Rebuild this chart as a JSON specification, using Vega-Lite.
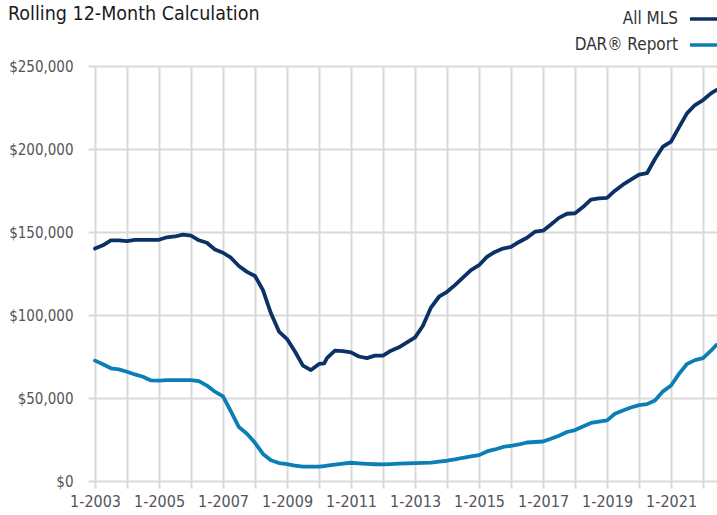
{
  "$schema": "https://vega.github.io/schema/vega-lite/v6.json",
  "width": 629,
  "height": 415,
  "autosize": {"type": "none"},
  "padding": {"left": 88, "top": 66, "right": 0, "bottom": 34},
  "background": "white",
  "title": {
    "text": "Rolling 12-Month Calculation",
    "anchor": "start",
    "frame": "group",
    "font": "DejaVu Sans Condensed, Liberation Sans, sans-serif",
    "fontSize": 19.5,
    "fontWeight": "normal",
    "color": "#1a1a1a",
    "baseline": "alphabetic",
    "dx": -80,
    "offset": 0,
    "dy": 37
  },
  "data": {
    "values": [
      {"date": "2003-01-01", "All MLS": 140000, "DAR® Report": 72500},
      {"date": "2003-04-01", "All MLS": 142000, "DAR® Report": 70300},
      {"date": "2003-07-01", "All MLS": 145000, "DAR® Report": 67900},
      {"date": "2003-10-01", "All MLS": 145000, "DAR® Report": 67200},
      {"date": "2004-01-01", "All MLS": 144500, "DAR® Report": 65800},
      {"date": "2004-04-01", "All MLS": 145200, "DAR® Report": 64200},
      {"date": "2004-07-01", "All MLS": 145200, "DAR® Report": 62800},
      {"date": "2004-10-01", "All MLS": 145200, "DAR® Report": 60600},
      {"date": "2005-01-01", "All MLS": 145300, "DAR® Report": 60500},
      {"date": "2005-04-01", "All MLS": 146800, "DAR® Report": 60800},
      {"date": "2005-07-01", "All MLS": 147300, "DAR® Report": 60800},
      {"date": "2005-10-01", "All MLS": 148400, "DAR® Report": 60800},
      {"date": "2006-01-01", "All MLS": 147800, "DAR® Report": 60800},
      {"date": "2006-04-01", "All MLS": 145000, "DAR® Report": 60200},
      {"date": "2006-07-01", "All MLS": 143500, "DAR® Report": 57500},
      {"date": "2006-10-01", "All MLS": 139500, "DAR® Report": 53800},
      {"date": "2007-01-01", "All MLS": 137500, "DAR® Report": 51000},
      {"date": "2007-04-01", "All MLS": 134500, "DAR® Report": 42000},
      {"date": "2007-07-01", "All MLS": 129500, "DAR® Report": 32500},
      {"date": "2007-10-01", "All MLS": 126000, "DAR® Report": 28500},
      {"date": "2008-01-01", "All MLS": 123500, "DAR® Report": 23000},
      {"date": "2008-04-01", "All MLS": 115000, "DAR® Report": 16300},
      {"date": "2008-07-01", "All MLS": 101000, "DAR® Report": 12500},
      {"date": "2008-10-01", "All MLS": 90000, "DAR® Report": 10800},
      {"date": "2009-01-01", "All MLS": 85500, "DAR® Report": 10200},
      {"date": "2009-04-01", "All MLS": 78000, "DAR® Report": 9300},
      {"date": "2009-07-01", "All MLS": 69500, "DAR® Report": 8700},
      {"date": "2009-10-01", "All MLS": 66800, "DAR® Report": 8600},
      {"date": "2010-01-01", "All MLS": 70500, "DAR® Report": 8600},
      {"date": "2010-03-01", "All MLS": 70900, "DAR® Report": 9000},
      {"date": "2010-04-01", "All MLS": 74000, "DAR® Report": 9200},
      {"date": "2010-07-01", "All MLS": 78500, "DAR® Report": 9800},
      {"date": "2010-10-01", "All MLS": 78200, "DAR® Report": 10500},
      {"date": "2011-01-01", "All MLS": 77500, "DAR® Report": 11000},
      {"date": "2011-04-01", "All MLS": 75000, "DAR® Report": 10600},
      {"date": "2011-07-01", "All MLS": 74000, "DAR® Report": 10300},
      {"date": "2011-10-01", "All MLS": 75500, "DAR® Report": 10100},
      {"date": "2012-01-01", "All MLS": 75500, "DAR® Report": 10000},
      {"date": "2012-04-01", "All MLS": 78500, "DAR® Report": 10200},
      {"date": "2012-07-01", "All MLS": 80500, "DAR® Report": 10500},
      {"date": "2012-10-01", "All MLS": 83500, "DAR® Report": 10600},
      {"date": "2013-01-01", "All MLS": 86500, "DAR® Report": 10800},
      {"date": "2013-04-01", "All MLS": 93500, "DAR® Report": 10900},
      {"date": "2013-07-01", "All MLS": 104500, "DAR® Report": 11100},
      {"date": "2013-10-01", "All MLS": 111000, "DAR® Report": 11700},
      {"date": "2014-01-01", "All MLS": 114000, "DAR® Report": 12200},
      {"date": "2014-04-01", "All MLS": 118000, "DAR® Report": 13000},
      {"date": "2014-07-01", "All MLS": 122500, "DAR® Report": 14000},
      {"date": "2014-10-01", "All MLS": 127000, "DAR® Report": 14800},
      {"date": "2015-01-01", "All MLS": 130000, "DAR® Report": 15600},
      {"date": "2015-04-01", "All MLS": 135000, "DAR® Report": 17800},
      {"date": "2015-07-01", "All MLS": 138000, "DAR® Report": 19000},
      {"date": "2015-10-01", "All MLS": 140000, "DAR® Report": 20500},
      {"date": "2016-01-01", "All MLS": 141000, "DAR® Report": 21200},
      {"date": "2016-04-01", "All MLS": 144000, "DAR® Report": 22000},
      {"date": "2016-07-01", "All MLS": 146500, "DAR® Report": 23200},
      {"date": "2016-10-01", "All MLS": 150200, "DAR® Report": 23500},
      {"date": "2017-01-01", "All MLS": 150800, "DAR® Report": 23800},
      {"date": "2017-04-01", "All MLS": 154500, "DAR® Report": 25500},
      {"date": "2017-07-01", "All MLS": 158500, "DAR® Report": 27300},
      {"date": "2017-10-01", "All MLS": 161000, "DAR® Report": 29500},
      {"date": "2018-01-01", "All MLS": 161300, "DAR® Report": 30700},
      {"date": "2018-04-01", "All MLS": 165000, "DAR® Report": 32800},
      {"date": "2018-07-01", "All MLS": 169500, "DAR® Report": 35000},
      {"date": "2018-10-01", "All MLS": 170300, "DAR® Report": 35800},
      {"date": "2019-01-01", "All MLS": 170500, "DAR® Report": 36500},
      {"date": "2019-04-01", "All MLS": 174900, "DAR® Report": 40500},
      {"date": "2019-07-01", "All MLS": 178500, "DAR® Report": 42500},
      {"date": "2019-10-01", "All MLS": 181500, "DAR® Report": 44300},
      {"date": "2020-01-01", "All MLS": 184500, "DAR® Report": 45700},
      {"date": "2020-04-01", "All MLS": 185400, "DAR® Report": 46300},
      {"date": "2020-07-01", "All MLS": 194000, "DAR® Report": 48500},
      {"date": "2020-10-01", "All MLS": 201500, "DAR® Report": 54000},
      {"date": "2021-01-01", "All MLS": 204500, "DAR® Report": 57500},
      {"date": "2021-04-01", "All MLS": 213000, "DAR® Report": 64500},
      {"date": "2021-07-01", "All MLS": 221500, "DAR® Report": 70500},
      {"date": "2021-10-01", "All MLS": 226500, "DAR® Report": 72800},
      {"date": "2022-01-01", "All MLS": 229500, "DAR® Report": 74000},
      {"date": "2022-04-01", "All MLS": 233500, "DAR® Report": 78500},
      {"date": "2022-06-01", "All MLS": 235500, "DAR® Report": 81900}
    ]
  },
  "transform": [
    {"fold": ["All MLS", "DAR® Report"], "as": ["series", "value"]}
  ],
  "mark": {"type": "line", "strokeWidth": 3.8, "strokeJoin": "round", "strokeCap": "round", "clip": true},
  "encoding": {
    "x": {
      "field": "date",
      "type": "temporal",
      "scale": {
        "type": "utc",
        "domain": [
          {"year": 2002, "month": 10, "date": 13, "utc": true},
          {"year": 2022, "month": 6, "date": 9, "utc": true}
        ]
      },
      "axis": {
        "title": null,
        "tickCount": {"interval": "year", "step": 1},
        "labelExpr": "utcyear(datum.value) % 2 == 1 ? '1-' + utcyear(datum.value) : ''",
        "labelFont": "DejaVu Sans Condensed, Liberation Sans, sans-serif",
        "labelFontSize": 16,
        "labelColor": "#555555",
        "labelPadding": 5,
        "labelOverlap": false,
        "labelFlush": false,
        "domain": false,
        "ticks": true,
        "tickSize": 7,
        "tickColor": "#d9d9d9",
        "tickWidth": 2,
        "grid": true,
        "gridColor": "#d9d9d9",
        "gridWidth": 2
      }
    },
    "y": {
      "field": "value",
      "type": "quantitative",
      "scale": {"domain": [0, 250000], "nice": false},
      "axis": {
        "title": null,
        "values": [0, 50000, 100000, 150000, 200000, 250000],
        "format": "$,.0f",
        "labelFont": "DejaVu Sans Condensed, Liberation Sans, sans-serif",
        "labelFontSize": 15,
        "labelColor": "#555555",
        "labelPadding": 15,
        "domain": false,
        "ticks": false,
        "grid": true,
        "gridColor": "#d9d9d9",
        "gridWidth": 2
      }
    },
    "color": {
      "field": "series",
      "type": "nominal",
      "scale": {"domain": ["All MLS", "DAR® Report"], "range": ["#0b3266", "#0b7fb5"]},
      "legend": {
        "title": null,
        "orient": "none",
        "legendX": 600,
        "legendY": -64,
        "padding": 0,
        "symbolType": "stroke",
        "symbolSize": 900,
        "symbolStrokeWidth": 3.5,
        "labelAlign": "right",
        "labelOffset": -44,
        "labelFont": "DejaVu Sans Condensed, Liberation Sans, sans-serif",
        "labelFontSize": 17,
        "labelColor": "#333333",
        "rowPadding": 1
      }
    }
  },
  "config": {
    "view": {"stroke": null}
  }
}
